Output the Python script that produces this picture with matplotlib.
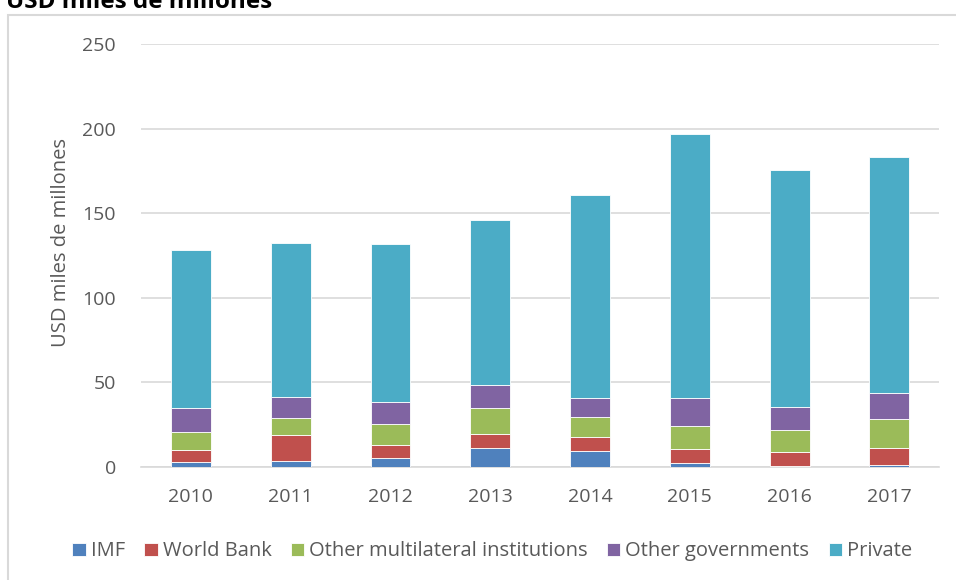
import matplotlib.pyplot as plt
import numpy as np
from matplotlib.patches import Rectangle

plt.rcParams['font.family'] = ['Open Sans', 'DejaVu Sans']

years = ['2010', '2011', '2012', '2013', '2014', '2015', '2016', '2017']
imf = [3.0, 3.7, 5.5, 11.0, 9.5, 2.6, 0.6, 1.0]
world_bank = [7.2, 15.2, 7.5, 8.5, 8.2, 7.8, 8.4, 10.2]
other_multi = [10.3, 10.3, 12.2, 15.4, 11.9, 13.8, 13.0, 17.0]
other_gov = [14.4, 12.2, 13.0, 13.8, 11.4, 16.6, 13.6, 15.7]
private = [93.4, 91.0, 93.8, 97.3, 119.8, 156.0, 139.9, 139.3]

series = [imf, world_bank, other_multi, other_gov, private]
labels = ['IMF', 'World Bank', 'Other multilateral institutions', 'Other governments', 'Private']
colors = ['#4F81BD', '#C0504D', '#9BBB59', '#8064A2', '#4BACC6']

fig = plt.figure(figsize=(9.56, 5.8), dpi=100)
ax = fig.add_axes([0.1475, 0.195, 0.835, 0.729])

x = np.arange(len(years))
bottom = np.zeros(len(years))
for vals, lab, col in zip(series, labels, colors):
    ax.bar(x, vals, 0.4, bottom=bottom, color=col, label=lab,
           edgecolor='white', linewidth=0.6, zorder=3)
    bottom += np.array(vals)

ax.set_xlim(-0.5, len(years) - 0.5)
ax.set_ylim(0, 250)
ax.set_yticks(range(0, 251, 50))
ax.set_xticks(x)
ax.set_xticklabels(years)
ax.yaxis.grid(True, color='#d9d9d9', linewidth=1.2, zorder=0)
for s in ['top', 'right', 'left']:
    ax.spines[s].set_visible(False)
ax.spines['bottom'].set_color('#d9d9d9')
ax.spines['bottom'].set_linewidth(1.2)
ax.tick_params(axis='both', length=0, labelsize=14, colors='#595959')
ax.tick_params(axis='y', pad=18)
ax.tick_params(axis='x', pad=15)
ax.set_ylabel('USD miles de millones', fontsize=14.5, color='#595959')
ax.yaxis.set_label_coords(-0.0875, 0.53)

# chart frame and cut-off title
fig.patches.append(Rectangle((8 / 956, -0.1), 1.2, 1 - 15 / 580 + 0.1,
                             transform=fig.transFigure, fill=False,
                             edgecolor='#d9d9d9', linewidth=1.5))
fig.text(0.006, 1 - 8 / 580, 'USD miles de millones', fontsize=17.5,
         fontweight='bold', color='black', va='baseline', ha='left')

ax.legend(loc='center', bbox_to_anchor=(0.44, -0.2), ncol=5,
          frameon=False, fontsize=14.5, handlelength=0.67, handleheight=0.67,
          handletextpad=0.25, columnspacing=0.95, labelcolor='#595959')

fig.savefig('out.png', dpi=100)
